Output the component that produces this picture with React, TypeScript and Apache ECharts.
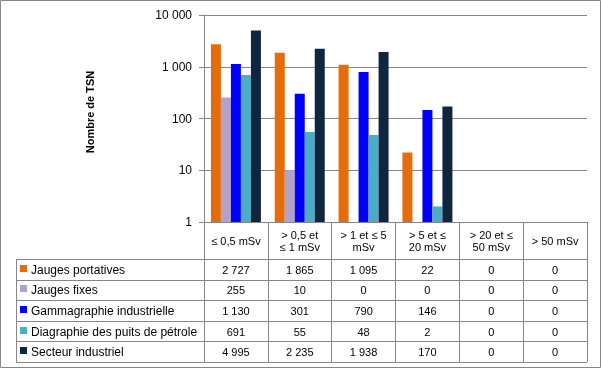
import React, { useEffect, useRef } from 'react';
import * as echarts from 'echarts';

const categories = ['≤ 0,5 mSv', '> 0,5 et\n≤ 1 mSv', '> 1 et ≤ 5\nmSv', '> 5 et ≤\n20 mSv', '> 20 et ≤\n50 mSv', '> 50 mSv'];
const seriesNames = ['Jauges portatives', 'Jauges fixes', 'Gammagraphie industrielle', 'Diagraphie des puits de pétrole', 'Secteur industriel'];
const seriesColors = ['#E46C0A', '#B3A2C7', '#0000FF', '#4BACC6', '#10253F'];
const jaugesPortatives = [2727, 1865, 1095, 22, 0, 0];
const jaugesFixes = [255, 10, 0, 0, 0, 0];
const gammagraphie = [1130, 301, 790, 146, 0, 0];
const diagraphie = [691, 55, 48, 2, 0, 0];
const secteurIndustriel = [4995, 2235, 1938, 170, 0, 0];
const seriesValues = [jaugesPortatives, jaugesFixes, gammagraphie, diagraphie, secteurIndustriel];
const yAxisTitle = 'Nombre de TSN';

function fmt(v: number): string {
  return String(Math.round(v)).replace(/\B(?=(\d{3})+(?!\d))/g, ' ');
}

export default function App() {
  const ref = useRef<HTMLDivElement>(null);
  useEffect(() => {
    const chart = echarts.init(ref.current!, null, { renderer: 'svg' });
    const FONT = '"Liberation Sans", Arial, sans-serif';
    const GRAY = '#868686';
    chart.setOption({
      animation: false,
      textStyle: { fontFamily: FONT },
      grid: { left: 204, top: 15, right: 14, bottom: 147, containLabel: false },
      xAxis: {
        type: 'category',
        data: categories,
        axisLine: { lineStyle: { color: GRAY, width: 1 } },
        axisTick: { show: true, length: 140, lineStyle: { color: GRAY } },
        axisLabel: { interval: 0, margin: 19, verticalAlign: 'middle', lineHeight: 12, color: '#000', fontSize: 11, fontFamily: FONT },
        splitLine: { show: false },
      },
      yAxis: {
        type: 'log',
        logBase: 10,
        min: 1,
        max: 10000,
        axisLine: { show: true, lineStyle: { color: GRAY } },
        axisTick: { show: true, length: 5, lineStyle: { color: GRAY } },
        splitLine: { show: true, lineStyle: { color: GRAY } },
        axisLabel: { formatter: fmt, margin: 12, fontSize: 12, color: '#000', fontFamily: FONT },
      },
      series: seriesNames.map((name, i) => ({
        type: 'bar',
        name,
        data: seriesValues[i].map((v) => (v > 0 ? v : null)),
        barWidth: 10,
        barGap: '0%',
        itemStyle: { color: seriesColors[i] },
      })),
    });

    const centers = categories.map((c, i) => chart.convertToPixel({ xAxisIndex: 0 }, i) as number);
    const step = (centers[centers.length - 1] - centers[0]) / (centers.length - 1);
    const rightEdge = centers[centers.length - 1] + step / 2;
    const tableLeft = 16.5;
    const tableTop = 259;
    const rowH = 20.6;
    const elements: any[] = [];
    for (let k = 0; k <= seriesNames.length; k++) {
      const y = Math.round(tableTop + k * rowH) + 0.5;
      elements.push({ type: 'line', shape: { x1: tableLeft, y1: y, x2: rightEdge, y2: y }, style: { stroke: GRAY, lineWidth: 1 } });
    }
    elements.push({ type: 'line', shape: { x1: tableLeft, y1: tableTop + 0.5, x2: tableLeft, y2: Math.round(tableTop + seriesNames.length * rowH) + 0.5 }, style: { stroke: GRAY, lineWidth: 1 } });
    seriesNames.forEach((name, i) => {
      const cy = tableTop + (i + 0.5) * rowH + 0.5;
      elements.push({ type: 'rect', shape: { x: 20, y: Math.round(cy) - 5, width: 7, height: 7 }, style: { fill: seriesColors[i] } });
      elements.push({ type: 'text', x: 31, y: cy, style: { text: name, font: `12px ${FONT}`, fill: '#000', align: 'left', verticalAlign: 'middle' } });
      seriesValues[i].forEach((v, j) => {
        elements.push({ type: 'text', x: centers[j], y: cy, style: { text: fmt(v), font: `11px ${FONT}`, fill: '#000', align: 'center', verticalAlign: 'middle' } });
      });
    });
    elements.push({ type: 'text', x: 90, y: 112, rotation: Math.PI / 2, style: { text: yAxisTitle, font: `bold 11px ${FONT}`, fill: '#000', align: 'center', verticalAlign: 'middle' } });
    elements.push({ type: 'rect', shape: { x: 0.5, y: 0.5, width: 600, height: 367 }, style: { fill: 'none', stroke: GRAY, lineWidth: 1 } });
    chart.setOption({ graphic: { elements } });

    return () => chart.dispose();
  }, []);
  return <div ref={ref} style={{ position: 'fixed', left: 0, top: 0, width: 601, height: 369 }} />;
}
